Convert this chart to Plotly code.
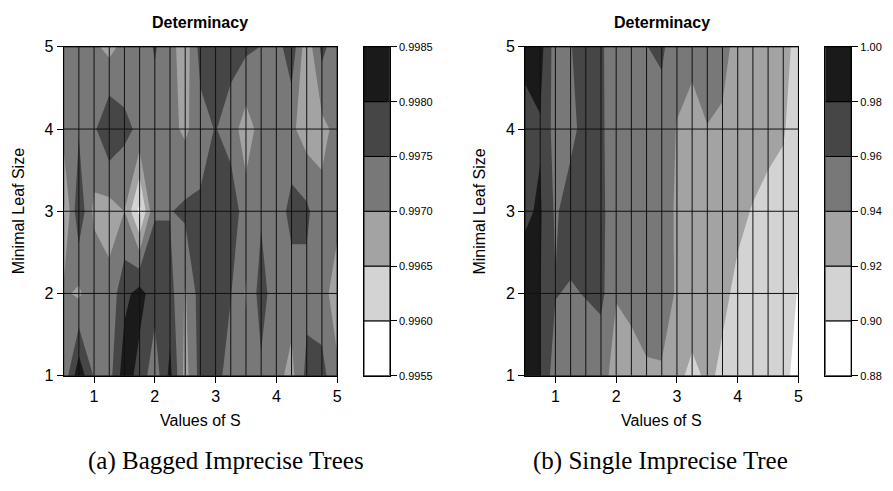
import plotly.graph_objects as go

# ---------------- data ----------------
S = [0.5, 0.75, 1.0, 1.25, 1.5, 1.75, 2.0, 2.25, 2.5, 2.75, 3.0,
     3.25, 3.5, 3.75, 4.0, 4.25, 4.5, 4.75, 5.0]
leaf = [1, 2, 3, 4, 5]

# Determinacy, bagged imprecise trees (rows: leaf size 1..5, cols: S)
bagged_1 = [0.99715, 0.99835, 0.99745, 0.99730, 0.99830, 0.99780, 0.99720, 0.99815, 0.99680, 0.99770,
            0.99770, 0.99725, 0.99720, 0.99740, 0.99715, 0.99685, 0.99765, 0.997675, 0.99710]
bagged_2 = [0.99710, 0.99690, 0.99745, 0.99715, 0.99785, 0.99820, 0.99770, 0.99770, 0.99695, 0.99775,
            0.99780, 0.997525, 0.99695, 0.99775, 0.99715, 0.99720, 0.99735, 0.99720, 0.99675]
bagged_3 = [0.99640, 0.99790, 0.996875, 0.99680, 0.99700, 0.99585, 0.997475, 0.997475, 0.99760, 0.997575,
            0.99780, 0.99785, 0.997215, 0.997425, 0.99715, 0.99770, 0.99760, 0.99715, 0.99715]
bagged_4 = [0.99720, 0.99745, 0.997415, 0.99795, 0.997625, 0.99740, 0.99725, 0.99715, 0.99690, 0.99730,
            0.997525, 0.99725, 0.99675, 0.99720, 0.99715, 0.99710, 0.99675, 0.99685, 0.99715]
bagged_5 = [0.99715, 0.99715, 0.99710, 0.99685, 0.99715, 0.99720, 0.99755, 0.99720, 0.99670, 0.99770,
            0.99780, 0.99770, 0.99760, 0.99749, 0.99725, 0.99785, 0.99665, 0.99765, 0.99720]

# Determinacy, single imprecise tree
single_1 = [0.990, 0.981, 0.948, 0.948, 0.946, 0.943, 0.937, 0.928, 0.937, 0.938,
            0.926, 0.914, 0.924, 0.916, 0.912, 0.910, 0.908, 0.908, 0.890]
single_2 = [0.989, 0.9806, 0.961, 0.958, 0.961, 0.966, 0.9404, 0.948, 0.950, 0.949,
            0.938, 0.9346, 0.930, 0.924, 0.916, 0.912, 0.910, 0.908, 0.899]
single_3 = [0.977, 0.9824, 0.957, 0.970, 0.972, 0.964, 0.950, 0.950, 0.948, 0.947,
            0.938, 0.932, 0.930, 0.930, 0.924, 0.919, 0.914, 0.912, 0.902]
single_4 = [0.972, 0.9782, 0.952, 0.954, 0.968, 0.963, 0.950, 0.950, 0.950, 0.950,
            0.9392, 0.932, 0.9396, 0.937, 0.930, 0.928, 0.926, 0.922, 0.908]
single_5 = [0.9866, 0.988, 0.950, 0.959, 0.970, 0.962, 0.952, 0.952, 0.9596, 0.964,
            0.946, 0.946, 0.946, 0.946, 0.934, 0.932, 0.932, 0.930, 0.910]

levels_a = [0.9955, 0.9960, 0.9965, 0.9970, 0.9975, 0.9980, 0.9985]
levels_b = [0.88, 0.90, 0.92, 0.94, 0.96, 0.98, 1.00]
ticks_a = ["0.9955", "0.9960", "0.9965", "0.9970", "0.9975", "0.9980", "0.9985"]
ticks_b = ["0.88", "0.90", "0.92", "0.94", "0.96", "0.98", "1.00"]
band_colors = ["#ffffff", "#d3d3d3", "#a3a3a3", "#787878", "#464646", "#1a1a1a"]

title_text = "Determinacy"
x_label = "Values of S"
y_label = "Minimal Leaf Size"
captions = ["(a) Bagged Imprecise Trees", "(b) Single Imprecise Tree"]

# ---------------- helpers ----------------
PAGE_W, PAGE_H = 893, 491
OFF = 8  # default body margin of the html page
W, H = PAGE_W - 2 * OFF, PAGE_H - 2 * OFF
FONT = "Liberation Sans, Arial, sans-serif"


def px_x(p):
    return (p - OFF) / W


def px_y(p):
    return 1 - (p - OFF) / H


def step_scale(colors):
    ext = [colors[0]] + list(colors) + [colors[-1]]
    n = len(ext) - 1
    sc = []
    for i, c in enumerate(ext):
        lo = max(0.0, (i - 0.5) / n)
        hi = min(1.0, (i + 0.5) / n)
        sc.append([lo, c])
        sc.append([hi, c])
    return sc


fig = go.Figure()

panels = [
    dict(z=[bagged_1, bagged_2, bagged_3, bagged_4, bagged_5], levels=levels_a, ticks=ticks_a,
         main=("x", "y"), cbar=("x2", "y2"), xd=(64, 339), cd=(366, 392), cap_x=227),
    dict(z=[single_1, single_2, single_3, single_4, single_5], levels=levels_b, ticks=ticks_b,
         main=("x3", "y3"), cbar=("x4", "y4"), xd=(528, 803), cd=(830, 856), cap_x=664),
]

ytop, ybot = 40, 381
ydom = [px_y(ybot), px_y(ytop)]

annotations = []
for k, p in enumerate(panels):
    lv = p["levels"]
    step = lv[1] - lv[0]
    fig.add_trace(go.Contour(
        x=S, y=leaf, z=p["z"],
        xaxis=p["main"][0], yaxis=p["main"][1],
        autocontour=False,
        contours=dict(start=lv[0], end=lv[-1] + step * 0.01, size=step, coloring="fill", showlines=False),
        line=dict(width=0, smoothing=0),
        colorscale=step_scale(band_colors),
        showscale=False, hoverinfo="skip",
    ))
    # grid lines over the filled contours
    gx, gy = [], []
    for s in S:
        gx += [s, s, None]
        gy += [leaf[0], leaf[-1], None]
    for l in leaf:
        gx += [S[0], S[-1], None]
        gy += [l, l, None]
    fig.add_trace(go.Scatter(x=gx, y=gy, mode="lines", line=dict(color="#111111", width=1),
                             xaxis=p["main"][0], yaxis=p["main"][1], hoverinfo="skip",
                             showlegend=False))
    # colour key as stacked bands
    fig.add_trace(go.Bar(
        x=[0] * (len(lv) - 1), y=[lv[i + 1] - lv[i] for i in range(len(lv) - 1)], base=lv[:-1],
        marker=dict(color=band_colors, line=dict(color="black", width=1)),
        width=1, xaxis=p["cbar"][0], yaxis=p["cbar"][1], hoverinfo="skip", showlegend=False,
    ))

    xa = "xaxis" if k == 0 else "xaxis3"
    ya = "yaxis" if k == 0 else "yaxis3"
    xc = "xaxis2" if k == 0 else "xaxis4"
    yc = "yaxis2" if k == 0 else "yaxis4"
    fig.update_layout(**{
        xa: dict(domain=[px_x(p["xd"][0]), px_x(p["xd"][1])], range=[S[0], S[-1]],
                 tickvals=[1, 2, 3, 4, 5], ticks="outside", ticklen=6, tickcolor="black",
                 showline=True, mirror=True, linecolor="black", linewidth=1,
                 showgrid=False, zeroline=False, anchor=p["main"][1],
                 tickfont=dict(family=FONT, size=16, color="black")),
        ya: dict(domain=ydom, range=[leaf[0], leaf[-1]], tickvals=leaf,
                 ticks="outside", ticklen=6, tickcolor="black",
                 showline=True, mirror=True, linecolor="black", linewidth=1,
                 showgrid=False, zeroline=False, anchor=p["main"][0],
                 tickfont=dict(family=FONT, size=16, color="black")),
        xc: dict(domain=[px_x(p["cd"][0]), px_x(p["cd"][1])], range=[-0.5, 0.5],
                 showticklabels=False, ticks="", showgrid=False, zeroline=False,
                 showline=True, mirror=True, linecolor="black", linewidth=1, anchor=p["cbar"][1]),
        yc: dict(domain=ydom, range=[lv[0], lv[-1]], side="right", tickvals=lv, ticktext=p["ticks"],
                 ticks="outside", ticklen=6, tickcolor="black", showgrid=False, zeroline=False,
                 showline=True, mirror=True, linecolor="black", linewidth=1, anchor=p["cbar"][0],
                 tickfont=dict(family=FONT, size=11, color="black")),
    })

    cx = (p["xd"][0] + p["xd"][1]) / 2
    annotations += [
        dict(text="<b>" + title_text + "</b>", x=px_x(cx), y=px_y(15), xref="paper", yref="paper",
             showarrow=False, xanchor="center", yanchor="middle",
             font=dict(family=FONT, size=16, color="black")),
        dict(text=x_label, x=px_x(cx), y=px_y(427), xref="paper", yref="paper",
             showarrow=False, xanchor="center", yanchor="middle",
             font=dict(family=FONT, size=16, color="black")),
        dict(text=y_label, x=px_x(p["xd"][0] - 46), y=px_y((ytop + ybot) / 2), xref="paper", yref="paper",
             showarrow=False, xanchor="center", yanchor="middle", textangle=-90,
             font=dict(family=FONT, size=16, color="black")),
        dict(text=captions[k], x=px_x(p["cap_x"]), y=px_y(470), xref="paper", yref="paper",
             showarrow=False, xanchor="center", yanchor="middle",
             font=dict(family="Liberation Serif, Times New Roman, serif", size=25, color="black")),
    ]

fig.update_layout(
    width=W, height=H, margin=dict(l=0, r=0, t=0, b=0),
    paper_bgcolor="white", plot_bgcolor="white",
    barmode="overlay", showlegend=False,
    annotations=annotations,
)

fig.write_html("out.html")
